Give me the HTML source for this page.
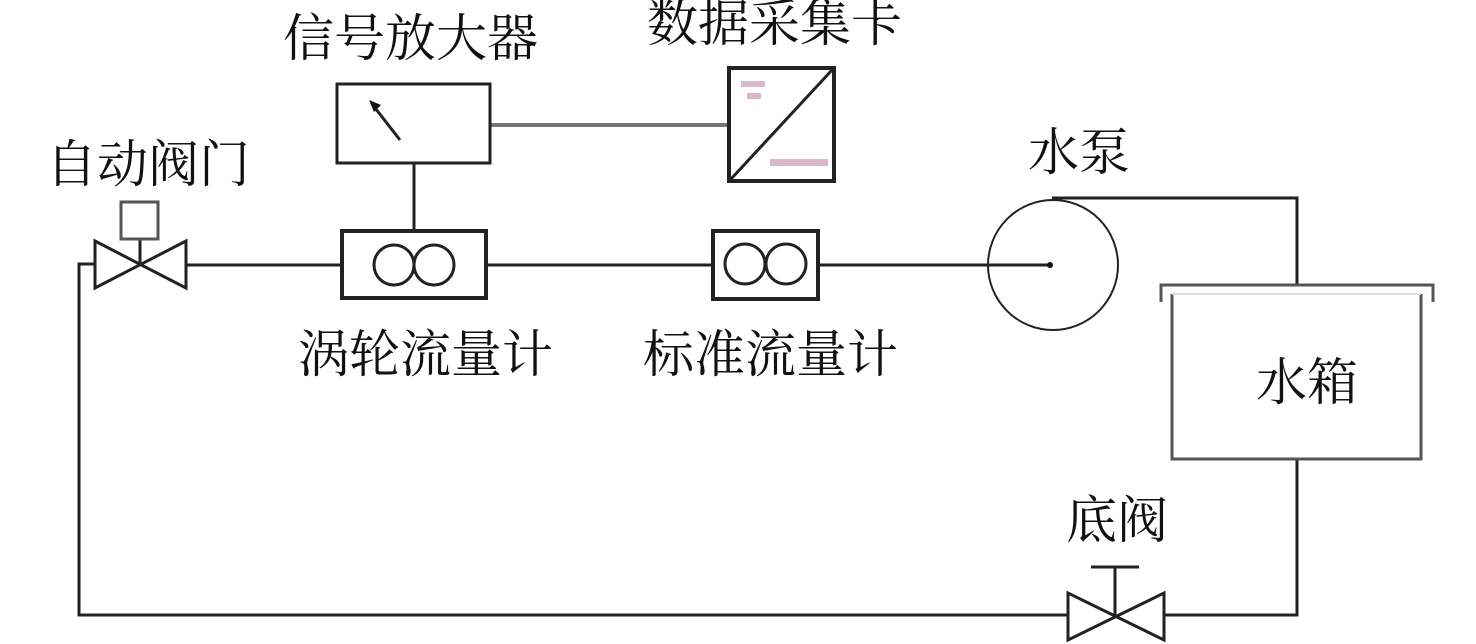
<!DOCTYPE html>
<html><head><meta charset="utf-8">
<style>
html,body{margin:0;padding:0;background:#fff;}
svg{display:block;}
text{font-family:"Liberation Serif","Noto Serif CJK SC","Noto Sans CJK SC",serif;font-size:51px;fill:#111;}
</style></head><body>
<svg width="1476" height="644" viewBox="0 0 1476 644" xmlns="http://www.w3.org/2000/svg">
<g fill="none" stroke="#222" stroke-width="3">
<polyline points="94,264 79,264 79,615 1068,615"/>
<polyline points="1164,615 1297,615 1297,460"/>
<line x1="186" y1="265" x2="342" y2="265"/>
<line x1="486" y1="265" x2="713" y2="265"/>
<line x1="818" y1="265" x2="1050" y2="265"/>
<polyline points="1052,198 1297,198 1297,284"/>
<line x1="414" y1="163" x2="414" y2="231"/>
<line x1="490" y1="125" x2="727" y2="125" stroke="#777" stroke-width="4"/>
<polygon points="95,241 95,288 186,241 186,288"/>
<line x1="140" y1="240" x2="140" y2="265"/>
<rect x="121" y="202" width="37" height="37" stroke="#555"/>
<polygon points="1068,593 1068,640 1164,593 1164,640"/>
<line x1="1115" y1="567" x2="1115" y2="617"/>
<line x1="1091" y1="567" x2="1139" y2="567"/>
<rect x="342" y="231" width="144" height="67" stroke-width="4"/>
<circle cx="394" cy="265" r="20"/>
<circle cx="434" cy="265" r="20"/>
<rect x="713" y="231" width="105" height="68" stroke-width="4"/>
<circle cx="745" cy="264" r="20"/>
<circle cx="786" cy="264" r="20"/>
<rect x="337" y="84" width="153" height="79" stroke-width="3"/>
<line x1="372" y1="104" x2="400" y2="140" stroke-width="3"/>
<rect x="729" y="68" width="105" height="113" stroke-width="4"/>
<line x1="731" y1="179" x2="832" y2="70" stroke-width="3"/>
<circle cx="1053" cy="265" r="65" stroke-width="2"/>
<polyline points="1161,302 1161,285 1433,285 1433,302" stroke="#555"/>
<polyline points="1172,294 1172,459 1421,459 1421,294" stroke="#555"/>
<line x1="1172" y1="294" x2="1421" y2="294" stroke="#ddd" stroke-width="2"/>
</g>
<polygon points="369,100 381,105 374,112" fill="#111"/>
<circle cx="1050" cy="265" r="3" fill="#111"/>
<g fill="#c9b" opacity="0.7">
<rect x="741" y="81" width="24" height="6"/>
<rect x="747" y="93" width="14" height="6"/>
<rect x="770" y="159" width="58" height="7"/>
</g>
<text x="283" y="56">信号放大器</text>
<text x="647" y="41">数据采集卡</text>
<text x="46" y="182">自动阀门</text>
<text x="1028" y="170">水泵</text>
<text x="298" y="372">涡轮流量计</text>
<text x="643" y="372">标准流量计</text>
<text x="1256" y="400">水箱</text>
<text x="1066" y="538">底阀</text>
</svg>
</body></html>
